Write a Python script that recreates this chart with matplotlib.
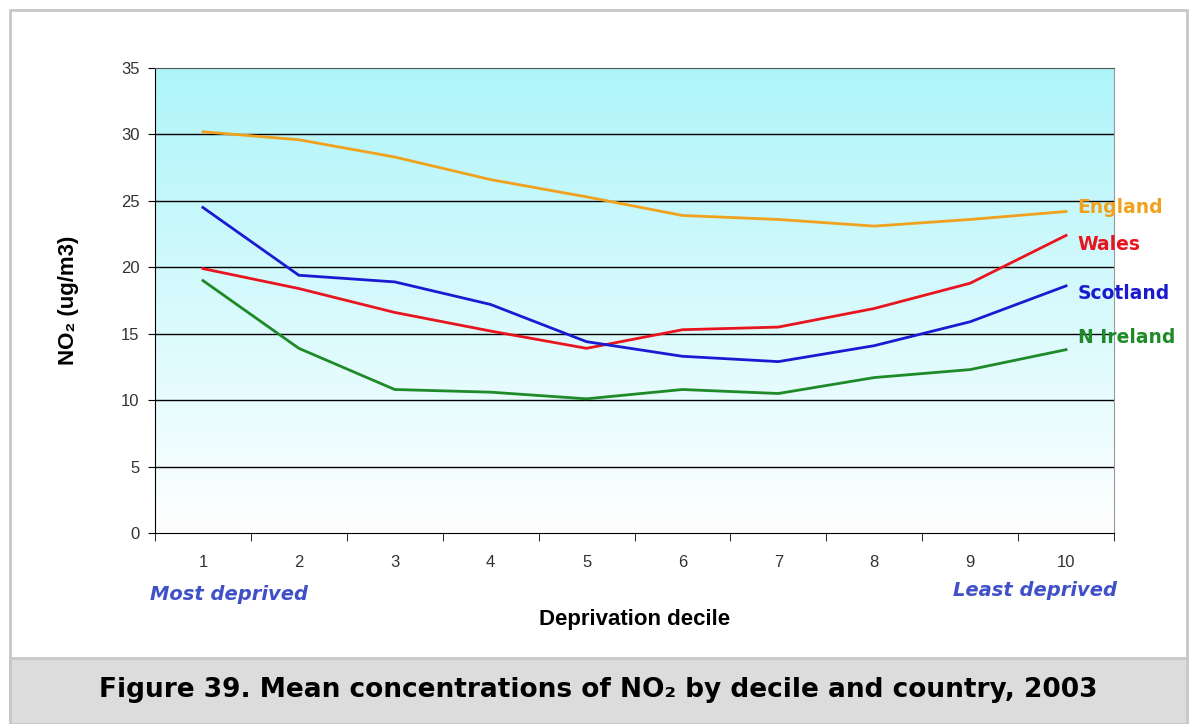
import matplotlib.pyplot as plt
import numpy as np
from matplotlib.patches import Rectangle

deciles = [1, 2, 3, 4, 5, 6, 7, 8, 9, 10]
england = [30.2, 29.6, 28.3, 26.6, 25.3, 23.9, 23.6, 23.1, 23.6, 24.2]
wales = [19.9, 18.4, 16.6, 15.2, 13.9, 15.3, 15.5, 16.9, 18.8, 22.4]
scotland = [24.5, 19.4, 18.9, 17.2, 14.4, 13.3, 12.9, 14.1, 15.9, 18.6]
n_ireland = [19.0, 13.9, 10.8, 10.6, 10.1, 10.8, 10.5, 11.7, 12.3, 13.8]

# where the series names sit at the right (in data units)
label_y = [24.5, 21.7, 18.0, 14.7]

series = [
    ("England", england, "#F0A21E"),
    ("Wales", wales, "#E8141E"),
    ("Scotland", scotland, "#1A1AD2"),
    ("N Ireland", n_ireland, "#1E8A28"),
]

sans = ['Liberation Sans', 'DejaVu Sans']

fig = plt.figure(figsize=(11.97, 7.24), dpi=100)

# outer frame and caption band
fig.patches.append(Rectangle((10 / 1197, 0), 1177 / 1197, 714 / 724, transform=fig.transFigure,
                             facecolor='white', edgecolor='#C8C8C8', lw=2, zorder=-2))
fig.patches.append(Rectangle((10 / 1197, 0), 1177 / 1197, 66 / 724, transform=fig.transFigure,
                             facecolor='#DCDCDC', edgecolor='#C8C8C8', lw=2, zorder=-1))

ax = fig.add_axes([155 / 1197, (724 - 533) / 724, (1114 - 155) / 1197, (533 - 68) / 724])

# gradient background: cyan at top to white at bottom
grad = np.linspace(0, 1, 256).reshape(-1, 1)
top = np.array([0.68, 0.96, 0.98])
bot = np.array([1.0, 1.0, 1.0])
img = bot + (top - bot) * grad[..., None] * np.ones((1, 2, 1))
ax.imshow(img, extent=[0.5, 10.5, 0, 35], origin='lower', aspect='auto', zorder=0)
ax.set_xlim(0.5, 10.5)
ax.set_ylim(0, 35)

for y in range(5, 35, 5):
    ax.axhline(y, color='black', lw=1, zorder=1)

for (name, vals, col), ly in zip(series, label_y):
    ax.plot(deciles, vals, color=col, lw=2, zorder=3)
    ax.text(10.12, ly, name, color=col, fontsize=13.5, fontweight='bold',
            family=['DejaVu Sans'], va='center', ha='left', clip_on=False, zorder=4)

ax.set_yticks(range(0, 40, 5))
ax.set_xticks(deciles)
ax.set_xticks(np.arange(0.5, 11, 1), minor=True)
ax.tick_params(axis='x', which='major', length=0, pad=16, labelsize=12, labelcolor='#333333')
ax.tick_params(axis='x', which='minor', length=6, direction='out', color='black')
ax.tick_params(axis='y', length=5, direction='out', labelsize=12, labelcolor='#333333', pad=6)
for lab in ax.get_xticklabels() + ax.get_yticklabels():
    lab.set_family(sans)

ax.spines['left'].set_color('black')
ax.spines['bottom'].set_color('black')
ax.spines['top'].set_color('#555555')
ax.spines['right'].set_color('#999999')

ax.set_ylabel("NO₂ (ug/m3)", fontsize=16, fontweight='bold', family=sans, labelpad=30)
ax.set_xlabel("Deprivation decile", fontsize=16, fontweight='bold', family=sans, labelpad=28)

fig.text(150 / 1197, 1 - 594 / 724, "Most deprived", color='#4050C8', fontsize=14,
         fontweight='bold', style='italic', family=['DejaVu Sans'], va='center', ha='left')
fig.text(1117 / 1197, 1 - 591 / 724, "Least deprived", color='#4050C8', fontsize=14,
         fontweight='bold', style='italic', family=['DejaVu Sans'], va='center', ha='right')

fig.text(0.5, 1 - 690 / 724, "Figure 39. Mean concentrations of NO₂ by decile and country, 2003",
         fontsize=19, fontweight='bold', family=['DejaVu Sans'], ha='center', va='center')

fig.savefig("out.png", dpi=100)
